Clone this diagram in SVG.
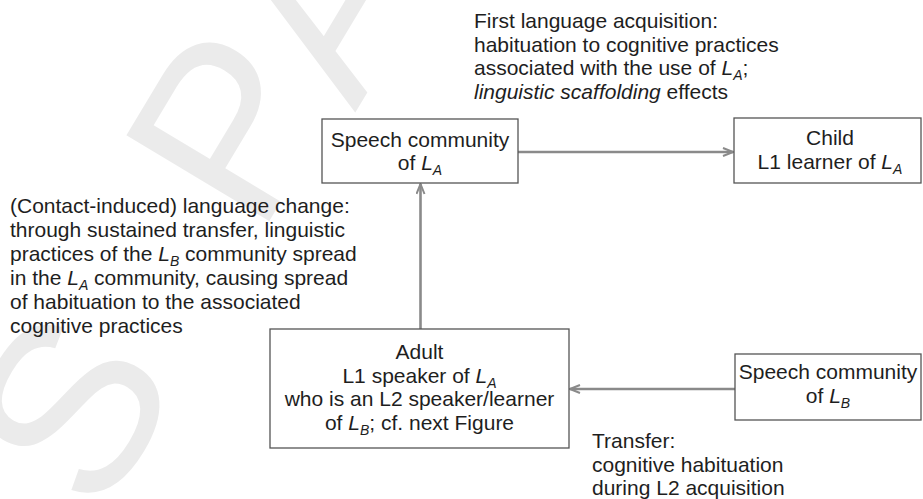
<svg xmlns="http://www.w3.org/2000/svg" width="923" height="499" viewBox="0 0 923 499">
  <defs>
    <marker id="head" viewBox="0 0 12 10" refX="11" refY="5" markerWidth="12" markerHeight="10" markerUnits="userSpaceOnUse" orient="auto">
      <path d="M1,1 L11,5 L1,9" fill="none" stroke="#8a8a8a" stroke-width="2" stroke-linejoin="miter"/>
    </marker>
  </defs>
  <style>
    text { font-family: "Liberation Sans", Arial, sans-serif; font-size: 21px; fill: #1e1e1e; }
    .c { text-anchor: middle; }
    .i { font-style: italic; }
    .sub { font-style: italic; font-size: 14px; }
    .box { fill: #ffffff; stroke: #555555; stroke-width: 1.3; }
    .link { stroke: #8a8a8a; stroke-width: 2.6; fill: none; marker-end: url(#head); }
    .mark { font-family: "Liberation Sans", Arial, sans-serif; font-size: 242px; fill: #ebebeb; }
  </style>
  <rect width="923" height="499" fill="#ffffff"/>

  <!-- faint background watermark -->
  <g id="watermark">
    <text class="mark" transform="translate(100,520) rotate(-59)">S</text>
    <text class="mark" transform="translate(259,238) rotate(-59)">P</text>
    <text class="mark" transform="translate(355,113) rotate(-59)">A</text>
  </g>

  <!-- free-standing annotations -->
  <g id="note-first-language">
    <text x="474" y="28">First language acquisition:</text>
    <text x="474" y="51.5">habituation to cognitive practices</text>
    <text x="474" y="75">associated with the use of <tspan class="i">L</tspan><tspan class="sub" dy="5">A</tspan><tspan dy="-5">;</tspan></text>
    <text x="474" y="98.5"><tspan class="i">linguistic scaffolding</tspan> effects</text>
  </g>
  <g id="note-language-change">
    <text x="10" y="213">(Contact-induced) language change:</text>
    <text x="10" y="237">through sustained transfer, linguistic</text>
    <text x="10" y="261">practices of the <tspan class="i">L</tspan><tspan class="sub" dy="5">B</tspan><tspan dy="-5"> community spread</tspan></text>
    <text x="10" y="285">in the <tspan class="i">L</tspan><tspan class="sub" dy="5">A</tspan><tspan dy="-5"> community, causing spread</tspan></text>
    <text x="10" y="309">of habituation to the associated</text>
    <text x="10" y="333">cognitive practices</text>
  </g>
  <g id="note-transfer">
    <text x="592" y="448">Transfer:</text>
    <text x="592" y="472">cognitive habituation</text>
    <text x="592" y="495">during L2 acquisition</text>
  </g>

  <!-- connectors -->
  <g id="connectors">
    <line class="link" x1="518" y1="152" x2="733" y2="152"/>
    <line class="link" x1="420.5" y1="329" x2="420.5" y2="184"/>
    <line class="link" x1="735" y1="389" x2="570" y2="389"/>
  </g>

  <!-- nodes -->
  <g id="node-community-a">
    <rect class="box" x="322" y="119" width="196" height="64"/>
    <text class="c" x="420" y="146.5">Speech community</text>
    <text class="c" x="420" y="170">of <tspan class="i">L</tspan><tspan class="sub" dy="5">A</tspan></text>
  </g>
  <g id="node-child">
    <rect class="box" x="734" y="118" width="187" height="65"/>
    <text class="c" x="830" y="145">Child</text>
    <text class="c" x="830" y="169">L1 learner of <tspan class="i">L</tspan><tspan class="sub" dy="5">A</tspan></text>
  </g>
  <g id="node-adult">
    <rect class="box" x="270" y="329" width="299" height="119"/>
    <text class="c" x="419.5" y="359">Adult</text>
    <text class="c" x="419.5" y="382.5">L1 speaker of <tspan class="i">L</tspan><tspan class="sub" dy="5">A</tspan></text>
    <text class="c" x="419.5" y="406">who is an L2 speaker/learner</text>
    <text class="c" x="419.5" y="429.5">of <tspan class="i">L</tspan><tspan class="sub" dy="5">B</tspan><tspan dy="-5">; cf. next Figure</tspan></text>
  </g>
  <g id="node-community-b">
    <rect class="box" x="735" y="354" width="186" height="66"/>
    <text class="c" x="828" y="379">Speech community</text>
    <text class="c" x="828" y="402.5">of <tspan class="i">L</tspan><tspan class="sub" dy="5">B</tspan></text>
  </g>
</svg>
